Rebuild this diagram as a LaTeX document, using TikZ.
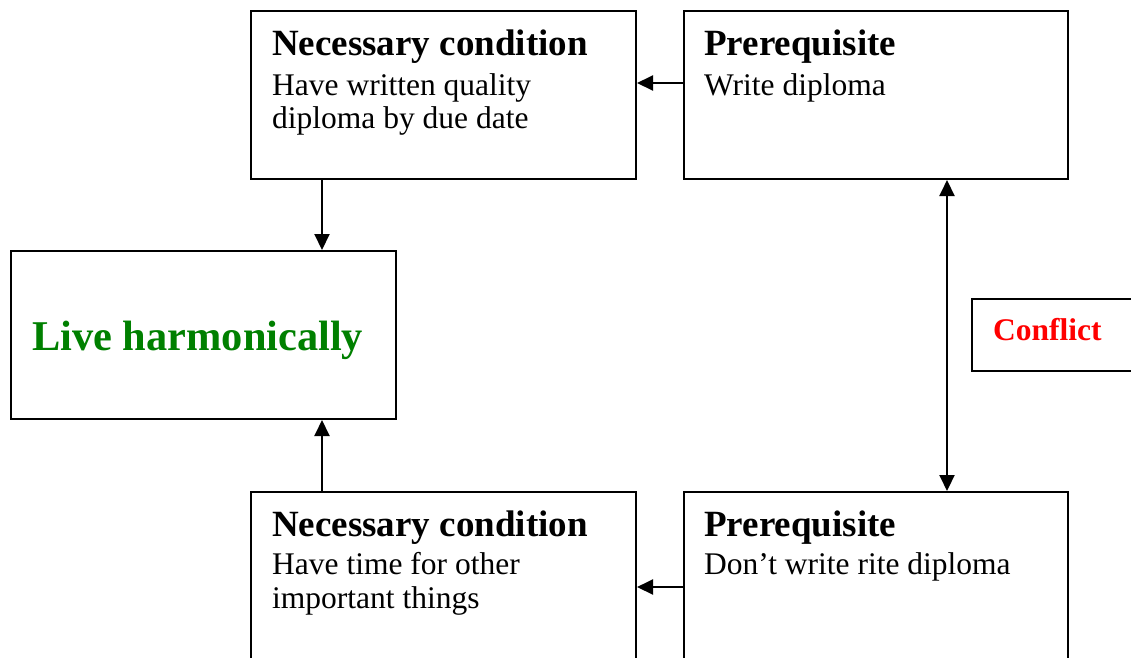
\documentclass[tikz,border=0pt]{standalone}
\usepackage{fontspec}
\setmainfont{Liberation Serif}
\usetikzlibrary{arrows.meta}
\definecolor{lhgreen}{RGB}{0,128,0}
\begin{document}
\begin{tikzpicture}[x=1pt,y=-1pt,
  box/.style={draw=black,line width=2pt,rectangle,inner sep=0pt,anchor=north west,fill=white},
  head/.style={anchor=base west,inner sep=0pt,font=\fontsize{37}{40}\selectfont\bfseries},
  body/.style={anchor=base west,inner sep=0pt,font=\fontsize{31.5}{33.5}\selectfont,align=left},
  arr/.style={line width=2pt,-{Triangle[length=16pt,width=15pt]}},
  darr/.style={line width=2pt,{Triangle[length=16pt,width=15pt]}-{Triangle[length=16pt,width=15pt]}}]
\clip (0,0) rectangle (1131,657);
\fill[white] (0,0) rectangle (1131,657);
% boxes
\node[box,minimum width=385pt,minimum height=168pt] (nc1) at (250,10) {};
\node[box,minimum width=384pt,minimum height=168pt] (pr1) at (683,10) {};
\node[box,minimum width=385pt,minimum height=168pt] (live) at (10,250) {};
\node[box,minimum width=385pt,minimum height=190pt] (nc2) at (250,491) {};
\node[box,minimum width=384pt,minimum height=190pt] (pr2) at (683,491) {};
\node[box,minimum width=190pt,minimum height=72pt] (conf) at (971,298) {};
% texts
\node[head] (nc1h) at (272,55) {Necessary condition};
\node[body] (nc1b1) at (272,95) {Have written quality};
\node[body] (nc1b2) at (272,128) {diploma by due date};
\node[head] (pr1h) at (704,55) {Prerequisite};
\node[body] (pr1b) at (704,95) {Write diploma};
\node[anchor=base west,inner sep=0pt,font=\fontsize{42.4}{45}\selectfont\bfseries,text=lhgreen] (livet) at (32,350) {Live harmonically};
\node[anchor=base west,inner sep=0pt,font=\fontsize{31.5}{33.5}\selectfont\bfseries,text=red] (conft) at (993,340) {Conflict};
\node[head] (nc2h) at (272,536) {Necessary condition};
\node[body] (nc2b1) at (272,574) {Have time for other};
\node[body] (nc2b2) at (272,608) {important things};
\node[head] (pr2h) at (704,536) {Prerequisite};
\node[body] (pr2b) at (704,574) {Don’t write rite diploma};
% connector guides
\coordinate (ya) at (0,83);
\coordinate (yb) at (0,587);
\coordinate (xa) at (322,0);
\coordinate (xb) at (947,0);
% connectors
\draw[arr] (pr1.west |- ya) -- (nc1.east |- ya);
\draw[arr] (pr2.west |- yb) -- (nc2.east |- yb);
\draw[arr] (nc1.south -| xa) -- (live.north -| xa);
\draw[arr] (nc2.north -| xa) -- (live.south -| xa);
\draw[darr] (pr1.south -| xb) -- (pr2.north -| xb);
\end{tikzpicture}
\end{document}
